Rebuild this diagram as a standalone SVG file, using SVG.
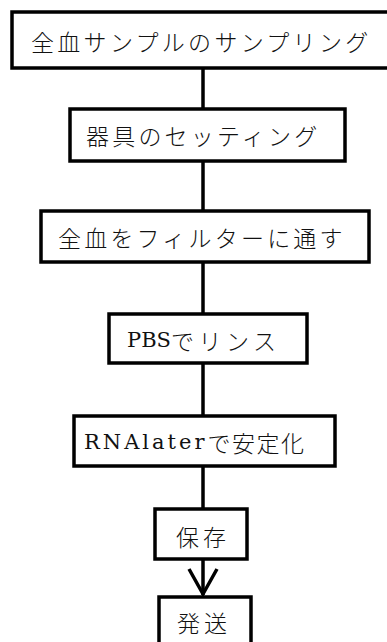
<svg xmlns="http://www.w3.org/2000/svg" width="387" height="642" viewBox="0 0 387 642">
<style>
.box{fill:#fff;stroke:#000;stroke-width:3.5}
.lbl{font-family:"Noto Sans CJK JP","Liberation Serif",sans-serif;font-size:23px;font-weight:300;fill:#111;dominant-baseline:central}
.lat{font-family:"DejaVu Serif","Liberation Serif",serif;font-size:21px;font-weight:400}
.ln{stroke:#000;stroke-width:3.5;fill:none}
</style>
<rect width="387" height="642" fill="#fff"/>
<g id="connectors">
<line class="ln" x1="203" y1="68" x2="203" y2="109"/>
<line class="ln" x1="203" y1="161" x2="203" y2="211"/>
<line class="ln" x1="203" y1="262" x2="203" y2="314"/>
<line class="ln" x1="203" y1="363" x2="203" y2="416"/>
<line class="ln" x1="203" y1="466" x2="203" y2="509"/>
<line class="ln" x1="203" y1="559" x2="203" y2="595"/>
<polyline class="ln" points="189,569 203,594 217,569"/>
</g>
<g id="n1"><rect class="box" x="12" y="12" width="390" height="56"/><text class="lbl" x="31" y="41" letter-spacing="3.3">全血サンプルのサンプリング</text></g>
<g id="n2"><rect class="box" x="70" y="109" width="275" height="52"/><text class="lbl" x="86" y="135" letter-spacing="3.2">器具のセッティング</text></g>
<g id="n3"><rect class="box" x="41" y="211" width="328" height="51"/><text class="lbl" x="58" y="237" letter-spacing="3.2">全血をフィルターに通す</text></g>
<g id="n4"><rect class="box" x="109" y="314" width="198" height="49"/><text class="lbl" x="127" y="340"><tspan class="lat" letter-spacing="0">PBS</tspan><tspan letter-spacing="4.5">でリンス</tspan></text></g>
<g id="n5"><rect class="box" x="74" y="416" width="261" height="50"/><text class="lbl" x="84" y="442"><tspan class="lat" letter-spacing="3">RNAlater</tspan><tspan letter-spacing="1.5">で安定化</tspan></text></g>
<g id="n6"><rect class="box" x="155" y="509" width="92" height="50"/><text class="lbl" x="176" y="536" letter-spacing="4">保存</text></g>
<g id="n7"><rect class="box" x="159" y="597" width="92" height="60"/><text class="lbl" x="177" y="622" letter-spacing="4">発送</text></g>
</svg>
